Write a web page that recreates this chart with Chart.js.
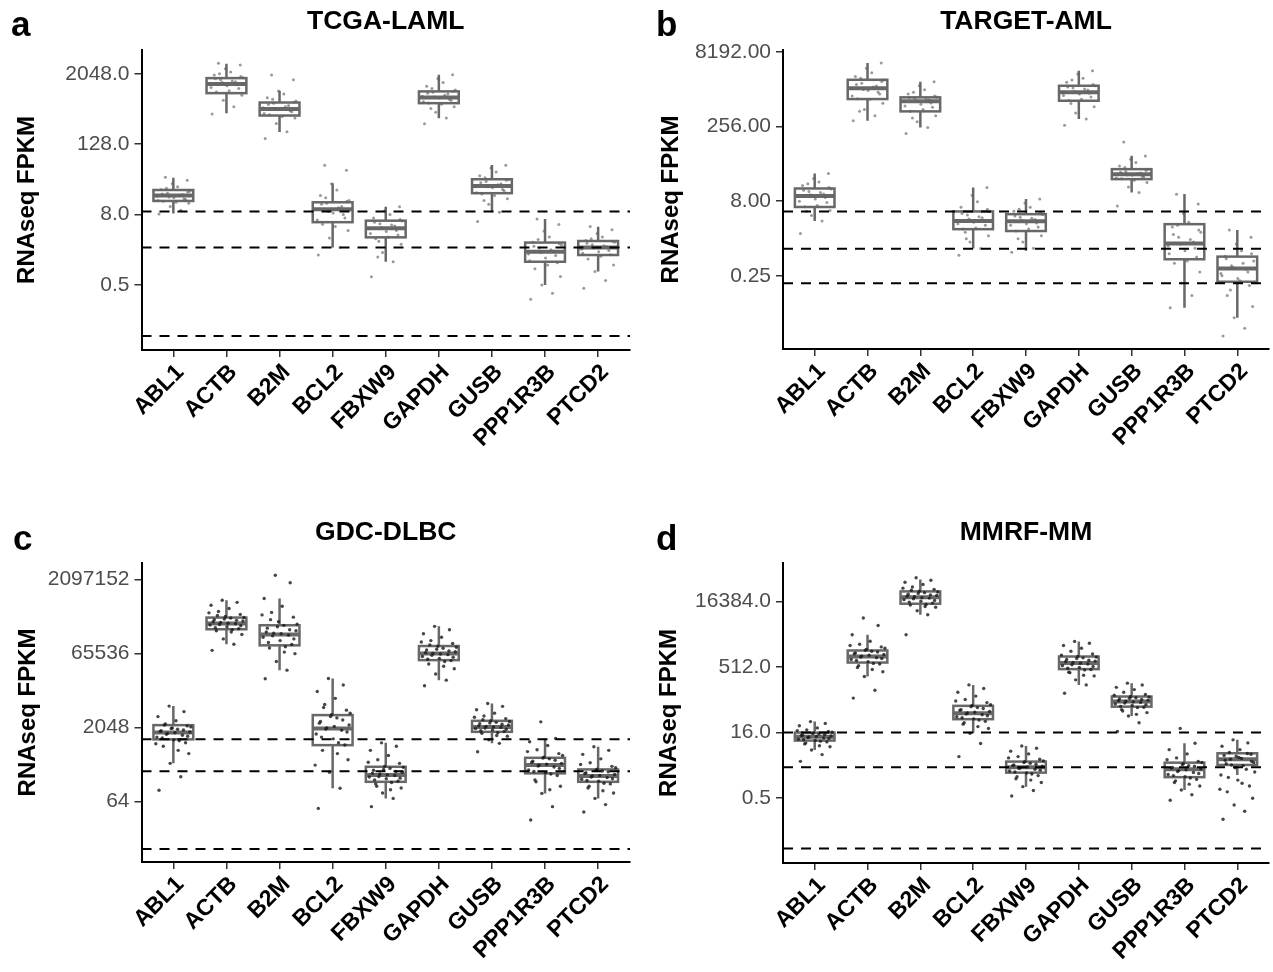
<!DOCTYPE html>
<html>
<head>
<meta charset="utf-8">
<script src="https://cdn.jsdelivr.net/npm/chart.js@4.4.1/dist/chart.umd.min.js"></script>
<style>
    body { margin: 0; background: #fff; }
    #wrap { position: relative; width: 1273px; height: 972px; }
    #wrap canvas { position: absolute; }
</style>
</head>
<body>
<div id="wrap">
    <canvas id="chartA" width="636" height="486" style="left:0;top:0"></canvas>
    <canvas id="chartB" width="637" height="486" style="left:636px;top:0"></canvas>
    <canvas id="chartC" width="636" height="486" style="left:0;top:486px"></canvas>
    <canvas id="chartD" width="637" height="486" style="left:636px;top:486px"></canvas>
</div>
<script>
// Genes shown on every panel
const genes = ['ABL1', 'ACTB', 'B2M', 'BCL2', 'FBXW9', 'GAPDH', 'GUSB', 'PPP1R3B', 'PTCD2'];

// a - TCGA-LAML
const lamlTicks = [0.5, 8, 128, 2048];
const lamlCutoffs = [9.0, 2.2, 0.067];
const lamlLow = [8.4, 435, 206, 2.2, 1.25, 357, 8.8, 0.5, 0.85];
const lamlQ1 = [13.7, 956, 396, 5.94, 3.27, 644, 18.6, 1.25, 1.63];
const lamlMedian = [16.9, 1364, 512, 9.9, 4.66, 804, 24.8, 1.85, 2.2];
const lamlQ3 = [21.1, 1728, 661, 13.0, 6.3, 1024, 32.2, 2.66, 2.83];
const lamlHigh = [34.3, 3040, 1047, 27.5, 10.9, 1970, 56.6, 6.7, 4.98];
const lamlPoints = [
    [8.2, 9.5, 11, 12.5, 13.5, 14.5, 15.5, 16.5, 17.5, 18.5, 20, 21.5, 24, 27, 31, 35, 13, 14, 15, 16, 17, 18, 19.5, 22.5],
    [420, 560, 720, 880, 1000, 1150, 1280, 1400, 1500, 1620, 1750, 1950, 2200, 2500, 2900, 3100, 1050, 1200, 1330, 1450, 1550, 1680, 1850, 2050],
    [160, 210, 290, 360, 410, 460, 500, 540, 590, 640, 700, 800, 920, 1040, 1620, 1960, 380, 430, 480, 520, 560, 610, 670, 750],
    [1.63, 2.2, 3.2, 4.3, 5.5, 7, 8.5, 9.8, 11, 12.5, 14, 17, 21, 27, 46, 56, 5, 6.5, 8, 9, 10.5, 12, 13.5, 15.5],
    [0.69, 1.25, 1.8, 2.5, 3.1, 3.6, 4.1, 4.6, 5.1, 5.6, 6.2, 7, 8, 9.3, 10.9, 1.5, 3.3, 3.8, 4.3, 4.8, 5.3, 5.9, 6.6, 2.8],
    [286, 360, 450, 560, 650, 720, 790, 850, 920, 990, 1080, 1250, 1450, 1700, 1970, 520, 620, 680, 750, 820, 880, 950, 1030, 1150],
    [6.1, 8.8, 12, 15, 18, 20.5, 23, 25, 27, 29.5, 32, 37, 43, 50, 56, 14, 17, 19, 21.5, 24, 26, 28, 31, 34],
    [0.285, 0.36, 0.5, 0.7, 0.95, 1.2, 1.45, 1.7, 1.9, 2.15, 2.4, 2.7, 3.3, 4.2, 5.4, 6.7, 1.1, 1.3, 1.6, 1.8, 2.0, 2.3, 2.55, 3.0],
    [0.44, 0.6, 0.85, 1.1, 1.4, 1.65, 1.85, 2.05, 2.25, 2.45, 2.7, 2.9, 3.3, 3.8, 4.4, 5, 1.55, 1.75, 1.95, 2.15, 2.35, 2.6, 2.8, 3.1]
];

// b - TARGET-AML
const targetTicks = [0.25, 8, 256, 8192];
const targetCutoffs = [4.96, 0.875, 0.178];
const targetLow = [3.2, 333, 245, 0.89, 0.8, 360, 12, 0.057, 0.036];
const targetQ1 = [6.1, 912, 515, 2.18, 2.0, 843, 22.2, 0.54, 0.19];
const targetMedian = [10.2, 1500, 820, 3.2, 3.16, 1245, 28, 1.12, 0.35];
const targetQ3 = [14.4, 2230, 987, 4.96, 4.37, 1690, 35.3, 2.75, 0.61];
const targetHigh = [28.9, 4840, 2035, 15.1, 8.8, 3400, 65.5, 11.1, 2.1];
const targetPoints = [
    [1.79, 3.2, 4.1, 5.2, 6.2, 7.5, 8.8, 10, 11.2, 12.5, 14, 16.5, 19.5, 23, 28.9, 5, 6.5, 8, 9.5, 10.8, 12, 13.3, 15, 18],
    [333, 420, 560, 750, 930, 1150, 1350, 1500, 1680, 1900, 2200, 2600, 3100, 3800, 4840, 520, 900, 1050, 1250, 1420, 1600, 1800, 2050, 2400],
    [185, 245, 320, 420, 520, 620, 720, 810, 880, 950, 1000, 1150, 1400, 1700, 2035, 380, 560, 660, 760, 840, 910, 980, 1050, 1250],
    [0.65, 0.89, 1.2, 1.6, 2.2, 2.6, 3.0, 3.3, 3.7, 4.2, 4.9, 6, 7.8, 10.5, 15.1, 1.9, 2.3, 2.8, 3.2, 3.5, 3.9, 4.5, 5.5, 1.4],
    [0.75, 0.9, 1.2, 1.6, 2.0, 2.4, 2.8, 3.1, 3.4, 3.8, 4.3, 5, 6, 7.3, 8.8, 1.4, 2.2, 2.6, 2.9, 3.3, 3.6, 4.0, 4.6, 5.5],
    [272, 360, 480, 640, 850, 1000, 1150, 1250, 1380, 1520, 1700, 2000, 2400, 2900, 3400, 740, 900, 1080, 1200, 1300, 1450, 1600, 1800, 2200],
    [6.4, 12, 15.5, 19, 22.5, 24.5, 26.5, 28, 29.5, 31.5, 35, 41, 48, 56, 65, 125, 21, 23.5, 25.5, 27, 29, 30.5, 33, 38],
    [0.057, 0.1, 0.18, 0.3, 0.45, 0.6, 0.8, 1.0, 1.2, 1.5, 1.9, 2.4, 3, 4.5, 7, 11, 0.5, 0.7, 0.9, 1.1, 1.35, 1.7, 2.1, 2.6],
    [0.0154, 0.022, 0.036, 0.06, 0.1, 0.16, 0.22, 0.28, 0.34, 0.4, 0.5, 0.62, 0.8, 1.1, 1.5, 2.1, 0.2, 0.25, 0.3, 0.37, 0.45, 0.55, 0.7, 0.13]
];

// c - GDC-DLBC
const dlbcTicks = [64, 2048, 65536, 2097152];
const dlbcCutoffs = [1170, 261, 6.9];
const dlbcLow = [380, 101000, 29900, 118, 73.5, 18800, 970, 93, 73.5];
const dlbcQ1 = [1170, 204000, 96000, 893, 160, 48000, 1665, 238, 160];
const dlbcMedian = [1620, 267000, 159000, 1955, 220, 65500, 2100, 350, 209];
const dlbcQ3 = [2280, 353000, 246000, 3650, 324, 93000, 2790, 493, 286];
const dlbcHigh = [5560, 795000, 865000, 20300, 995, 234000, 6300, 1225, 826];
const dlbcPoints = [
    [108, 203, 380, 600, 850, 1000, 1150, 1300, 1420, 1550, 1650, 1750, 1880, 2000, 2200, 2400, 2800, 3400, 4300, 5560,
     1100, 1250, 1350, 1480, 1600, 1700, 1820, 1950, 2100, 2300, 700, 950],
    [76000, 101000, 130000, 160000, 190000, 210000, 230000, 250000, 265000, 280000, 300000, 320000, 345000, 370000, 410000, 470000, 540000, 630000, 720000, 795000,
     200000, 220000, 240000, 255000, 270000, 290000, 310000, 330000, 355000, 390000, 180000, 440000],
    [20000, 30000, 45000, 65000, 85000, 100000, 120000, 140000, 155000, 170000, 190000, 215000, 245000, 290000, 360000, 450000, 600000, 865000, 1800000, 2560000,
     90000, 110000, 130000, 150000, 165000, 180000, 200000, 230000, 260000, 320000, 70000, 400000],
    [46, 118, 250, 450, 700, 900, 1200, 1500, 1800, 2000, 2300, 2700, 3200, 3700, 4600, 6000, 8000, 11000, 15000, 20300,
     1000, 1300, 1650, 1900, 2150, 2500, 2900, 3400, 4000, 5200, 600, 350],
    [50, 73.5, 95, 120, 145, 165, 185, 200, 215, 230, 250, 275, 300, 330, 380, 450, 550, 700, 850, 995,
     155, 175, 190, 205, 222, 240, 260, 285, 315, 130, 110, 400],
    [14400, 18800, 25000, 32000, 40000, 47000, 52000, 57000, 62000, 66000, 71000, 77000, 84000, 92000, 105000, 120000, 140000, 165000, 200000, 234000,
     45000, 50000, 55000, 60000, 64000, 68000, 74000, 80000, 88000, 98000, 36000, 112000],
    [653, 970, 1150, 1350, 1550, 1700, 1820, 1950, 2050, 2150, 2300, 2450, 2600, 2800, 3100, 3500, 4000, 4700, 5500, 6300,
     1600, 1750, 1880, 2000, 2100, 2200, 2380, 2520, 2700, 2950, 1400, 3300],
    [26.7, 50, 93, 130, 175, 215, 245, 280, 320, 350, 380, 420, 470, 510, 600, 720, 880, 1050, 1225, 2660,
     230, 260, 300, 335, 365, 400, 440, 490, 550, 160, 110, 660],
    [39, 55, 73.5, 95, 120, 145, 165, 180, 195, 210, 225, 245, 265, 290, 330, 390, 470, 580, 700, 826,
     150, 170, 185, 200, 215, 235, 255, 275, 310, 130, 105, 360]
];

// d - MMRF-MM
const mmTicks = [0.5, 16, 512, 16384];
const mmCutoffs = [16, 2.57, 0.035];
const mmLow = [6.4, 309, 8070, 15.5, 0.92, 199, 38.6, 0.77, 1.7];
const mmQ1 = [10.5, 648, 14500, 32.5, 1.93, 458, 63, 1.52, 2.9];
const mmMedian = [12.9, 891, 20300, 44.6, 2.57, 630, 82.5, 2.31, 3.9];
const mmQ3 = [16, 1226, 27800, 65.8, 3.46, 891, 107.6, 3.27, 5.37];
const mmHigh = [28.6, 2820, 51800, 199, 7.9, 1980, 218, 9.1, 10.9];
const mmPoints = [
    [3.5, 5, 6.4, 7.6, 8.8, 9.8, 10.6, 11.3, 12, 12.7, 13.4, 14.1, 14.9, 15.8, 17, 18.5, 20.5, 23, 26, 28.6,
     10.2, 11, 11.7, 12.3, 13, 13.7, 14.5, 15.3, 16.3, 9.2, 8, 17.8],
    [99, 150, 309, 400, 500, 600, 680, 760, 840, 910, 990, 1080, 1180, 1300, 1480, 1700, 2000, 2820, 4600, 6800,
     620, 720, 800, 870, 950, 1030, 1130, 1240, 1380, 550, 450, 1600],
    [2820, 8070, 10000, 12000, 13500, 15000, 16500, 18000, 19500, 21000, 22500, 24000, 26000, 28000, 31000, 35000, 40000, 45000, 50000, 57000,
     14000, 15800, 17200, 18800, 20000, 21500, 23200, 25000, 27000, 29500, 12500, 33000],
    [4.5, 9, 15.5, 20, 25, 29, 33, 37, 41, 45, 49, 54, 60, 67, 78, 92, 110, 135, 165, 199,
     31, 35, 39, 43, 47, 52, 57, 63, 70, 27, 22, 85],
    [0.56, 0.75, 0.92, 1.15, 1.4, 1.65, 1.9, 2.1, 2.3, 2.5, 2.7, 2.9, 3.15, 3.45, 3.9, 4.5, 5.2, 6, 7, 7.9,
     1.8, 2.0, 2.2, 2.4, 2.6, 2.8, 3.0, 3.3, 3.6, 1.55, 1.3, 4.2],
    [128, 199, 260, 320, 390, 450, 500, 550, 600, 650, 700, 760, 830, 900, 1020, 1180, 1380, 1600, 1800, 1980,
     440, 480, 525, 575, 625, 675, 730, 800, 870, 380, 330, 960],
    [16.9, 27, 38.6, 46, 54, 61, 67, 73, 79, 84, 89, 95, 101, 108, 120, 135, 155, 175, 198, 218,
     60, 64, 70, 76, 81, 86, 92, 98, 105, 50, 42, 115],
    [0.45, 0.6, 0.77, 0.95, 1.15, 1.35, 1.55, 1.75, 1.95, 2.15, 2.35, 2.55, 2.8, 3.1, 3.5, 4.2, 5.2, 6.5, 9.1, 20,
     1.45, 1.65, 1.85, 2.05, 2.25, 2.45, 2.7, 2.95, 3.3, 1.25, 1.05, 3.8],
    [0.164, 0.25, 0.35, 0.5, 0.7, 0.95, 1.3, 1.7, 2.3, 2.9, 3.3, 3.7, 4.1, 4.6, 5.1, 5.6, 6.5, 7.8, 9.3, 10.9,
     2.8, 3.1, 3.5, 3.9, 4.3, 4.8, 5.3, 2.5, 2.0, 1.5, 1.1, 0.8]
];

// fixed horizontal jitter pattern (category units)
const jitter = [-0.27, 0.14, -0.06, 0.29, -0.19, 0.23, 0.01, -0.31, 0.17, -0.11, 0.31, -0.23, 0.08, -0.02, 0.26, -0.15,
                0.05, -0.29, 0.2, -0.08, 0.11, -0.21, 0.27, -0.13, 0.03, -0.25, 0.19, -0.04, 0.33, -0.17, 0.09, -0.33];

const FONT = '"Liberation Sans", Arial, Helvetica, sans-serif';
const BOX_COLOR = '#686868';
Chart.defaults.font.family = FONT;

// Draw boxplots, cutoff lines and the panel letter
function boxPlugin(p) {
    return {
        id: 'boxes' + p.letter,
        beforeDatasetsDraw(chart) {
            const {ctx, scales: {x, y}} = chart;
            const half = x.getPixelForValue(1.375) - x.getPixelForValue(1);
            ctx.save();
            ctx.strokeStyle = BOX_COLOR;
            p.q1.forEach((q1, i) => {
                const cx = x.getPixelForValue(i + 1);
                const yLow = y.getPixelForValue(p.low[i]);
                const yQ1 = y.getPixelForValue(q1);
                const yMed = y.getPixelForValue(p.median[i]);
                const yQ3 = y.getPixelForValue(p.q3[i]);
                const yHigh = y.getPixelForValue(p.high[i]);
                ctx.lineWidth = 2.5;
                ctx.beginPath();
                ctx.moveTo(cx, yHigh);
                ctx.lineTo(cx, yQ3);
                ctx.moveTo(cx, yQ1);
                ctx.lineTo(cx, yLow);
                ctx.stroke();
                ctx.fillStyle = '#fff';
                ctx.fillRect(cx - half, yQ3, half * 2, yQ1 - yQ3);
                ctx.strokeRect(cx - half, yQ3, half * 2, yQ1 - yQ3);
                ctx.lineWidth = 4;
                ctx.beginPath();
                ctx.moveTo(cx - half, yMed);
                ctx.lineTo(cx + half, yMed);
                ctx.stroke();
            });
            ctx.restore();
        },
        afterDatasetsDraw(chart) {
            const {ctx, chartArea, scales: {y}} = chart;
            ctx.save();
            ctx.strokeStyle = '#000';
            ctx.lineWidth = 2;
            ctx.setLineDash([10, 8]);
            p.cutoffs.forEach(c => {
                const yy = y.getPixelForValue(c);
                ctx.beginPath();
                ctx.moveTo(chartArea.left, yy);
                ctx.lineTo(chartArea.right, yy);
                ctx.stroke();
            });
            ctx.restore();
        },
        afterDraw(chart) {
            const ctx = chart.ctx;
            ctx.save();
            ctx.fillStyle = '#000';
            ctx.font = 'bold 35px ' + FONT;
            ctx.textBaseline = 'alphabetic';
            ctx.fillText(p.letter, p.letterX, p.letterY);
            ctx.restore();
        }
    };
}

function makePanel(p) {
    const pts = [];
    p.points.forEach((vals, i) => {
        vals.forEach((v, k) => pts.push({x: i + 1 + jitter[k % jitter.length], y: v}));
    });
    return new Chart(document.getElementById(p.canvas), {
        type: 'scatter',
        data: {
            datasets: [{
                data: pts,
                pointRadius: p.pointRadius,
                pointBorderWidth: 0,
                pointBackgroundColor: p.pointColor
            }]
        },
        options: {
            responsive: false,
            animation: false,
            layout: { padding: { top: p.padTop, right: p.padRight, left: 0, bottom: 0 } },
            plugins: {
                legend: { display: false },
                tooltip: { enabled: false },
                title: {
                    display: true,
                    text: p.title,
                    fullSize: false,
                    color: '#000',
                    font: { size: 26.5, weight: 'bold', lineHeight: 1.2 },
                    padding: { top: 6, bottom: p.titleGap }
                }
            },
            scales: {
                x: {
                    type: 'linear',
                    min: 0.4,
                    max: 9.6,
                    afterBuildTicks: scale => { scale.ticks = genes.map((g, i) => ({ value: i + 1 })); },
                    afterFit: scale => { scale.height = p.xHeight; },
                    ticks: {
                        autoSkip: false,
                        minRotation: 45,
                        maxRotation: 45,
                        padding: 2,
                        labelOffset: 7,
                        color: '#000',
                        font: { size: 23, weight: 'bold' },
                        callback: v => genes[Math.round(v) - 1]
                    },
                    grid: { drawOnChartArea: false, tickLength: 7, color: '#333', lineWidth: 1.5 },
                    border: { display: true, color: '#000', width: 2 }
                },
                y: {
                    type: 'logarithmic',
                    min: p.yMin,
                    max: p.yMax,
                    afterBuildTicks: scale => { scale.ticks = p.ticks.map(v => ({ value: v })); },
                    afterFit: scale => { scale.width = p.yWidth; },
                    ticks: {
                        padding: 5,
                        color: '#4d4d4d',
                        font: { size: 21 },
                        callback: v => Number(v).toFixed(p.decimals)
                    },
                    grid: { drawOnChartArea: false, tickLength: 7, color: '#333', lineWidth: 1.5 },
                    border: { display: true, color: '#000', width: 2 },
                    title: {
                        display: true,
                        text: 'RNAseq FPKM',
                        color: '#000',
                        font: { size: 24, weight: 'bold', lineHeight: 1.2 },
                        padding: { top: p.yTitlePad, bottom: 0 }
                    }
                }
            }
        },
        plugins: [boxPlugin(p)]
    });
}

makePanel({
    canvas: 'chartA', title: 'TCGA-LAML', letter: 'a', letterX: 11, letterY: 36,
    ticks: lamlTicks, decimals: 1, cutoffs: lamlCutoffs, yMin: 0.0387, yMax: 5270,
    low: lamlLow, q1: lamlQ1, median: lamlMedian, q3: lamlQ3, high: lamlHigh, points: lamlPoints,
    pointColor: 'rgba(100,100,100,0.65)', pointRadius: 1.5,
    padTop: 0, titleGap: 12, padRight: 6, xHeight: 136, yWidth: 141.5, yTitlePad: 12.5
});
makePanel({
    canvas: 'chartB', title: 'TARGET-AML', letter: 'b', letterX: 20, letterY: 36,
    ticks: targetTicks, decimals: 2, cutoffs: targetCutoffs, yMin: 0.0084, yMax: 8960,
    low: targetLow, q1: targetQ1, median: targetMedian, q3: targetQ3, high: targetHigh, points: targetPoints,
    pointColor: 'rgba(100,100,100,0.65)', pointRadius: 1.5,
    padTop: 0, titleGap: 12, padRight: 0, xHeight: 137, yWidth: 147, yTitlePad: 20.5
});
makePanel({
    canvas: 'chartC', title: 'GDC-DLBC', letter: 'c', letterX: 13, letterY: 64,
    ticks: dlbcTicks, decimals: 0, cutoffs: dlbcCutoffs, yMin: 3.73, yMax: 4600000,
    low: dlbcLow, q1: dlbcQ1, median: dlbcMedian, q3: dlbcQ3, high: dlbcHigh, points: dlbcPoints,
    pointColor: 'rgba(25,25,25,0.8)', pointRadius: 1.7,
    padTop: 25, titleGap: 14, padRight: 6, xHeight: 110, yWidth: 141.5, yTitlePad: 14.3
});
makePanel({
    canvas: 'chartD', title: 'MMRF-MM', letter: 'd', letterX: 20, letterY: 64,
    ticks: mmTicks, decimals: 1, cutoffs: mmCutoffs, yMin: 0.0163, yMax: 126000,
    low: mmLow, q1: mmQ1, median: mmMedian, q3: mmQ3, high: mmHigh, points: mmPoints,
    pointColor: 'rgba(25,25,25,0.8)', pointRadius: 1.7,
    padTop: 25, titleGap: 14, padRight: 0, xHeight: 109, yWidth: 147, yTitlePad: 18.6
});
</script>
</body>
</html>
